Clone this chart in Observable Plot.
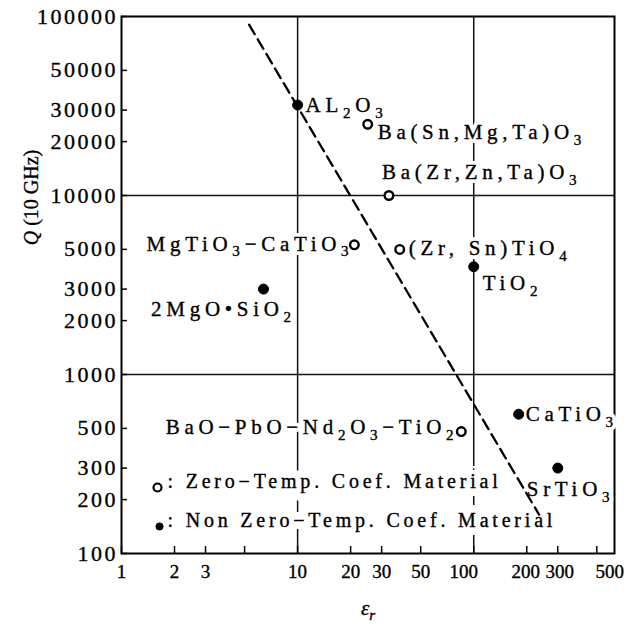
<!DOCTYPE html>
<html><head><meta charset="utf-8">
<script src="https://cdn.jsdelivr.net/npm/d3@7"></script>
<script src="https://cdn.jsdelivr.net/npm/@observablehq/plot@0.6"></script>
<style>
body{margin:0;background:#fff}
#chart svg{display:block}
g[aria-description="material label"] text{letter-spacing:4.7px}
g[aria-description="label halo"] text{letter-spacing:4.7px}
g[aria-description="legend text"] text{letter-spacing:3.8px}
g[aria-description="legend halo"] text{letter-spacing:3.8px}
g[aria-description="y tick label"] text{letter-spacing:2.5px}
</style></head><body><div id="chart"></div>
<script>
// ---- data ----
const materials = ["AL₂O₃","Ba(Sn,Mg,Ta)O₃","Ba(Zr,Zn,Ta)O₃","MgTiO₃−CaTiO₃","(Zr, Sn)TiO₄","TiO₂","2MgO•SiO₂","BaO−PbO−Nd₂O₃−TiO₂","CaTiO₃","SrTiO₃"];
const permittivity = [10, 25, 33, 21, 38, 100, 6.4, 85, 180, 300];
const qValues = [32000, 25000, 10000, 5300, 5000, 4000, 3000, 480, 600, 300];
const zeroTempCoef = [false, true, true, true, true, false, false, true, false, false];
const trendEr = [5.3, 235];
const trendQ = [90000, 165];
const xTicks = [1, 2, 3, 5, 10, 20, 30, 50, 100, 200, 300, 500];
const xTickLabels = [1, 2, 3, 10, 20, 30, 50, 100, 200, 300, 500];
const yTicks = [100, 200, 300, 500, 1000, 2000, 3000, 5000, 10000, 20000, 30000, 50000, 100000];
const gridX = [10, 100];
const gridY = [1000, 10000];
const legendLabels = ["Zero−Temp. Coef. Material", "Non Zero−Temp. Coef. Material"];
const legendFilled = [false, true];
const xTitle = "εᵣ";
const yTitle = "Q (10 GHz)";

// ---- layout / style ----
const W = 640, H = 624, mL = 121, mR = 26, mT = 16, mB = 71;
const plotW = W - mL - mR, plotH = H - mT - mB;
const labelPlacement = [
  {anchor: "start", dx: 8, dy: 0},
  {anchor: "start", dx: 10, dy: 8},
  {anchor: "start", dx: -7, dy: -23},
  {anchor: "end", dx: -1, dy: -1},
  {anchor: "start", dx: 9, dy: -1},
  {anchor: "start", dx: 9, dy: 17},
  {anchor: "middle", dx: -40, dy: 20},
  {anchor: "end", dx: -3, dy: -4},
  {anchor: "start", dx: 7, dy: 0},
  {anchor: "start", dx: -31, dy: 21}
];
const xLabelShift = {100: -10, 200: -1, 300: 2, 500: 13};
const legendPlacement = [{dxDot: 36, dxText: 46, dy: -66, r: 4}, {dxDot: 38, dxText: 46, dy: -27, r: 3.6}];
const font = "'Liberation Serif', 'Times New Roman', serif";
const labelSize = 21, legendSize = 20;
const ink = {fill: "black", stroke: "black", strokeWidth: 0.35};

const pts = materials.map((m, i) => ({name: m, er: permittivity[i], q: qValues[i], zero: zeroTempCoef[i]}));
const trend = trendEr.map((e, i) => ({er: e, q: trendQ[i]}));

const marks = [
  Plot.ruleX(gridX, {stroke: "#111", strokeWidth: 1.5}),
  Plot.ruleY(gridY, {stroke: "#111", strokeWidth: 1.5}),
  Plot.tickY(yTicks, {y: d => d, insetRight: plotW - 6, strokeWidth: 1.5}),
  Plot.tickX(xTicks, {x: d => d, insetTop: plotH - 7, strokeWidth: 1.5}),
  Plot.frame({strokeWidth: 2}),
  Plot.text(yTicks, {y: d => d, text: d => String(d), frameAnchor: "left", textAnchor: "end", dx: -3.5, fontSize: 22, ...ink, ariaDescription: "y tick label"}),
  Plot.text([yTitle], {text: d => d, frameAnchor: "top-left", textAnchor: "middle", dx: -98, dy: 181, rotate: -90, fontSize: 20, ...ink, ariaDescription: "y title"}),
  Plot.text([xTitle], {text: d => d, frameAnchor: "bottom", textAnchor: "middle", dy: 61, fontSize: 21, fontStyle: "italic", ...ink, ariaDescription: "x title"})
];
xTickLabels.forEach(v => {
  marks.push(Plot.text([v], {x: d => d, text: d => String(d), frameAnchor: "bottom", textAnchor: "middle", dy: 24, dx: xLabelShift[v] || 0, fontSize: 19, ...ink, ariaDescription: "x tick label"}));
});
// halos first (cut the grid lines behind labels), then the label text
labelPlacement.forEach((p, i) => {
  marks.push(Plot.text([pts[i]], {
    x: "er", y: "q", text: "name", textAnchor: p.anchor, dx: p.dx, dy: p.dy,
    fontSize: labelSize, fill: "white", stroke: "white", strokeWidth: 8, strokeLinejoin: "round", ariaDescription: "label halo"
  }));
});
legendLabels.forEach((lab, i) => {
  const p = legendPlacement[i];
  marks.push(Plot.text([": " + lab], {
    text: d => d, frameAnchor: "bottom-left", textAnchor: "start", dx: p.dxText, dy: p.dy,
    fontSize: legendSize, fill: "white", stroke: "white", strokeWidth: 16, strokeLinejoin: "round", ariaDescription: "legend halo"
  }));
});
labelPlacement.forEach((p, i) => {
  marks.push(Plot.text([pts[i]], {
    x: "er", y: "q", text: "name", textAnchor: p.anchor, dx: p.dx, dy: p.dy,
    fontSize: labelSize, ...ink, ariaDescription: "material label"
  }));
});
legendLabels.forEach((lab, i) => {
  const p = legendPlacement[i];
  marks.push(Plot.text([": " + lab], {
    text: d => d, frameAnchor: "bottom-left", textAnchor: "start", dx: p.dxText, dy: p.dy,
    fontSize: legendSize, ...ink, ariaDescription: "legend text"
  }));
  marks.push(Plot.dot([lab], {
    frameAnchor: "bottom-left", dx: p.dxDot, dy: p.dy, r: p.r,
    fill: legendFilled[i] ? "black" : "white", stroke: "black", strokeWidth: legendFilled[i] ? 1 : 2.2
  }));
});
marks.push(Plot.line(trend, {x: "er", y: "q", stroke: "black", strokeWidth: 2.3, strokeDasharray: "11,6"}));
marks.push(Plot.dot(pts.filter(d => d.zero), {x: "er", y: "q", r: 4.3, fill: "white", stroke: "black", strokeWidth: 2.4}));
marks.push(Plot.dot(pts.filter(d => !d.zero), {x: "er", y: "q", r: 5, fill: "black", stroke: "black", strokeWidth: 1}));

const svg = Plot.plot({
  width: W, height: H,
  marginLeft: mL, marginRight: mR, marginTop: mT, marginBottom: mB,
  x: {type: "log", domain: [1, 630], label: null, axis: null},
  y: {type: "log", domain: [100, 100000], label: null, axis: null},
  style: {fontFamily: font, fontSize: "18px", color: "black", background: "white"},
  marks
});
document.getElementById("chart").appendChild(svg);

// rich text: subscripts and italic Q
const ns = "http://www.w3.org/2000/svg";
const subs = {"₀": "0", "₁": "1", "₂": "2", "₃": "3", "₄": "4", "₅": "5", "ᵣ": "r"};
svg.querySelectorAll("text").forEach(t => {
  if (t.querySelector("tspan")) return;
  const s = t.textContent;
  const isY = t.closest('g[aria-description="y title"]');
  if (![...s].some(c => c in subs) && !isY) return;
  const fs = parseFloat(getComputedStyle(t).fontSize) || 18;
  const runs = [];
  if (isY) {
    runs.push({sub: false, s: s[0], italic: true});
    runs.push({sub: false, s: s.slice(1)});
  } else {
    for (const c of s) {
      const isSub = c in subs, ch = isSub ? subs[c] : c;
      if (runs.length && runs[runs.length - 1].sub === isSub) runs[runs.length - 1].s += ch;
      else runs.push({sub: isSub, s: ch});
    }
  }
  t.textContent = "";
  let shift = 0;
  runs.forEach(r => {
    const ts = document.createElementNS(ns, "tspan");
    ts.textContent = r.s;
    const target = r.sub ? fs * 0.28 : 0;
    if (target - shift !== 0) ts.setAttribute("dy", target - shift);
    shift = target;
    if (r.sub) ts.setAttribute("font-size", fs * 0.72);
    if (r.italic) ts.setAttribute("font-style", "italic");
    t.appendChild(ts);
  });
});
</script></body></html>
